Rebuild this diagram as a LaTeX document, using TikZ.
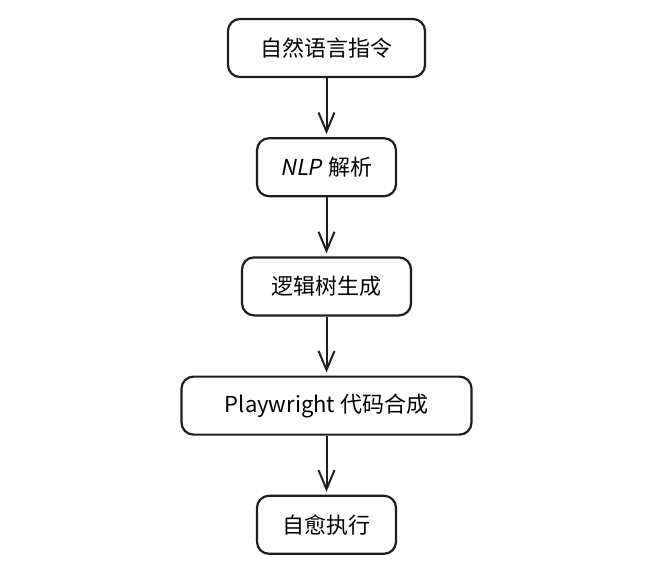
\documentclass[tikz,border=0pt]{standalone}
\usepackage{fontspec}
\setmainfont{Noto Sans CJK SC}
\newfontface\slantfont[FakeSlant=0.2]{Noto Sans CJK SC}
\usepackage{xcolor}
\usepackage{tikz}
\usetikzlibrary{arrows.meta,positioning}
\definecolor{inkgray}{RGB}{30,30,30}
\tikzset{
  procbox/.style={rectangle,rounded corners=12pt,draw=inkgray,line width=2.2pt,
    minimum height=58pt,inner sep=0pt,font=\fontsize{22}{26}\selectfont},
  flowarr/.style={-{Straight Barb[length=19pt,width=16pt,line width=2pt]},line width=2pt,draw=inkgray,shorten >=3pt}
}
\begin{document}
\begin{tikzpicture}[x=1pt,y=1pt,node distance=59pt]
  \useasboundingbox (0,0) rectangle (669,-581);
  \node[procbox,minimum width=197pt] (instr) at (326.5,-48) {自然语言指令};
  \node[procbox,minimum width=139pt,below=of instr] (nlp) {{\slantfont NLP}\hspace{7pt}解析};
  \node[procbox,minimum width=169pt,below=of nlp] (ltree) {逻辑树生成};
  \node[procbox,minimum width=290pt,below=of ltree] (pwcode) {Playwright 代码合成};
  \node[procbox,minimum width=139pt,below=of pwcode] (heal) {自愈执行};
  \foreach \a/\b in {instr/nlp,nlp/ltree,ltree/pwcode,pwcode/heal}{
    \draw[flowarr] (\a.south) -- (\b.north);
  }
\end{tikzpicture}
\end{document}
